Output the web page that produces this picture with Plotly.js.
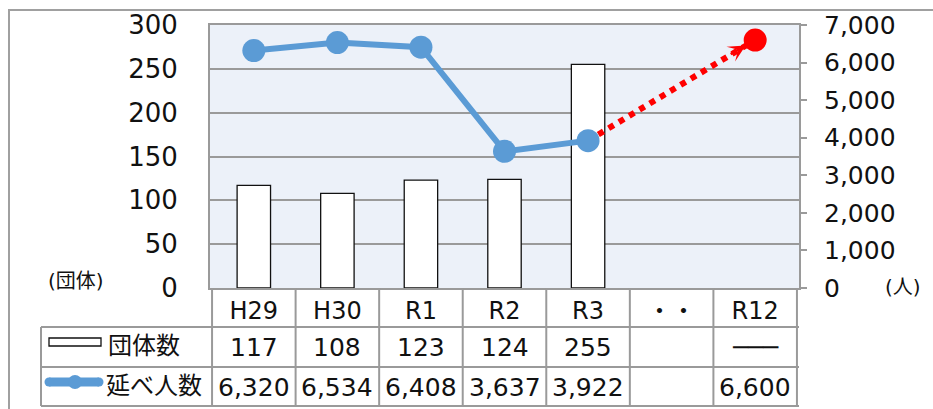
<!DOCTYPE html>
<html><head><meta charset="utf-8">
<script src="https://cdn.plot.ly/plotly-3.0.1.min.js"></script>
<style>html,body{margin:0;padding:0;background:#fff}</style>
</head><body><div id="chart" style="width:933px;height:409px"></div>
<script>
// ---- data ----
const categories = ["H29", "H30", "R1", "R2", "R3", "・・", "R12"];
const groupCounts = [117, 108, 123, 124, 255, null, null];
const participants = [6320, 6534, 6408, 3637, 3922, null, 6600];
const lastActual = 4;     // R3
const targetIndex = 6;    // R12
const seriesNames = ["団体数", "延べ人数"];
const leftUnit = "(団体)";
const rightUnit = "(人)";
const notApplicable = "───";

// ---- layout helpers ----
const W = 933, H = 409;
const M = {l: 210, r: 134, t: 25, b: 121};
const PW = W - M.l - M.r, PH = H - M.t - M.b;
const px = x => (x - M.l) / PW;
const py = y => (H - M.b - y) / PH;
const FONT = "DejaVu Sans, Noto Sans CJK JP, sans-serif";
const GRID = "#9a9a9a";
const BLUE = "#5b9bd5";

const fmt = v => v.toLocaleString("en-US");
const countText = groupCounts.map((v, i) => v == null ? (i === targetIndex ? notApplicable : "") : String(v));
const peopleText = participants.map(v => v == null ? "" : fmt(v));

const traces = [
  {type: "bar", x: categories, y: groupCounts, yaxis: "y", name: seriesNames[0],
   marker: {color: "#ffffff", line: {color: "#111", width: 1.3}}, hoverinfo: "skip"},
  {type: "scatter", mode: "lines+markers", yaxis: "y2",
   x: [categories[lastActual], categories[targetIndex]],
   y: [participants[lastActual], participants[targetIndex]],
   line: {color: "#ff0000", width: 6, dash: "6px,6px"},
   marker: {color: "#ff0000", size: [0, 23], opacity: 1, line: {width: 0}}, hoverinfo: "skip"},
  {type: "scatter", mode: "lines+markers", yaxis: "y2", name: seriesNames[1],
   x: categories.slice(0, lastActual + 1), y: participants.slice(0, lastActual + 1),
   line: {color: BLUE, width: 6}, marker: {color: BLUE, size: 23}, hoverinfo: "skip"}
];

const shapes = [];
const gline = (x0, y0, x1, y1, xref) => shapes.push({type: "line", xref: xref || "paper", yref: "paper",
  x0, y0, x1, y1, line: {color: GRID, width: 2}});
// outer frame
shapes.push({type: "rect", xref: "paper", yref: "paper", x0: px(9), y0: py(10), x1: px(945), y1: py(420),
  line: {color: "#a0a0a0", width: 2}, fillcolor: "rgba(0,0,0,0)"});
// table rows
[327, 367, 406].forEach(y => gline(px(41), py(y), 1, py(y)));
gline(px(41), py(327), px(41), py(406));
for (let i = 0; i <= categories.length; i++) gline(i - 0.5, py(288), i - 0.5, py(406), "x");
// legend symbols
shapes.push({type: "rect", xref: "paper", yref: "paper", x0: px(49), x1: px(101), y0: py(338), y1: py(346),
  line: {color: "#111", width: 1.3}, fillcolor: "#fff"});
shapes.push({type: "line", xref: "paper", yref: "paper", x0: px(49), x1: px(99), y0: py(382), y1: py(382),
  line: {color: BLUE, width: 9}});
[[49, 4.5], [99, 4.5], [75, 7]].forEach(([cx, r]) => shapes.push({type: "circle", xref: "paper", yref: "paper",
  x0: px(cx - r), x1: px(cx + r), y0: py(382 + r), y1: py(382 - r), line: {width: 0}, fillcolor: BLUE}));

const annotations = [];
const ann = (o) => annotations.push(Object.assign({showarrow: false, xanchor: "center", yanchor: "middle",
  font: {family: FONT, size: 25, color: "#111"}}, o));
categories.forEach((c, i) => {
  ann({xref: "x", yref: "paper", x: c, y: py(347), text: countText[i]});
  ann({xref: "x", yref: "paper", x: c, y: py(387), text: peopleText[i]});
});
ann({xref: "paper", yref: "paper", x: px(106), y: py(346), xanchor: "left", text: seriesNames[0], font: {family: FONT, size: 24, color: "#111"}});
ann({xref: "paper", yref: "paper", x: px(104), y: py(386), xanchor: "left", text: seriesNames[1], font: {family: FONT, size: 24, color: "#111"}});
ann({xref: "paper", yref: "paper", x: px(76), y: py(281), text: leftUnit, font: {family: FONT, size: 20, color: "#111"}});
ann({xref: "paper", yref: "paper", x: px(903), y: py(287), text: rightUnit, font: {family: FONT, size: 20, color: "#111"}});
// arrow head at the target
annotations.push({xref: "x", yref: "y2", x: categories[targetIndex], y: participants[targetIndex],
  text: "", showarrow: true, arrowhead: 3, arrowcolor: "#ff0000", arrowwidth: 2.6, arrowsize: 1.1,
  ax: -26, ay: 15, standoff: 11});

const layout = {
  width: W, height: H, margin: M, paper_bgcolor: "#fff", plot_bgcolor: "#ecf1f9",
  showlegend: false, bargap: 0.6,
  font: {family: FONT, size: 25, color: "#111"},
  xaxis: {type: "category", categoryorder: "array", categoryarray: categories,
    showline: true, mirror: true, linecolor: GRID, linewidth: 2, ticks: "", showgrid: false,
    tickfont: {family: FONT, size: 24, color: "#111"}, ticklabelstandoff: 0},
  yaxis: {range: [0, 300], dtick: 50, showgrid: true, gridcolor: GRID, gridwidth: 2, zeroline: false,
    showline: true, linecolor: GRID, linewidth: 2, ticks: "", ticklabelstandoff: 25,
    tickfont: {family: FONT, size: 26, color: "#111"}},
  yaxis2: {overlaying: "y", side: "right", range: [0, 7000], dtick: 1000, tickformat: ",d",
    showgrid: false, zeroline: false, showline: true, linecolor: GRID, linewidth: 2,
    ticks: "outside", ticklen: 6, tickcolor: GRID, tickwidth: 2, ticklabelstandoff: 12,
    tickfont: {family: FONT, size: 25, color: "#111"}},
  shapes, annotations
};
Plotly.newPlot("chart", traces, layout, {staticPlot: true});
</script></body></html>
